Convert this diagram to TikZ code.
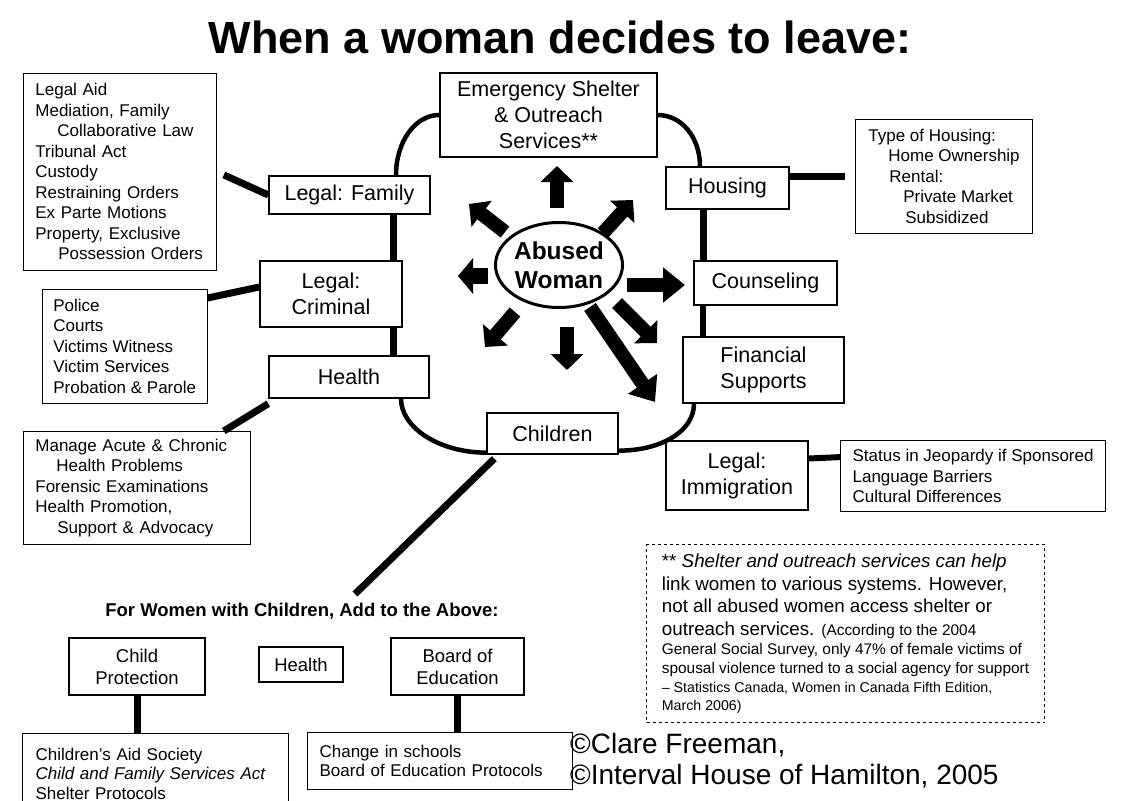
\documentclass[tikz,border=0pt]{standalone}
\usepackage{fontspec}
\setmainfont{Liberation Sans}
\usetikzlibrary{arrows.meta,shapes.geometric}
\newcommand\fBox{\fontsize{21.5}{26}\selectfont}
\newcommand\fList{\fontsize{17}{20.5}\selectfont}
\newcommand\fSub{\fontsize{18.5}{22}\selectfont}
\begin{document}
\begin{tikzpicture}[x=1pt,y=-1pt,
  box/.style={draw, line width=1.3pt, inner sep=0pt, align=center, font=\fBox},
  subbox/.style={draw, line width=1.2pt, inner sep=0pt, align=center, font=\fSub},
  listbox/.style={draw, line width=0.8pt, anchor=north west, align=left, font=\fList, inner ysep=0pt},
  conn/.style={line width=7pt},
  arcc/.style={line width=4.5pt},
  blk/.style={line width=14pt, -{Triangle[width=32pt,length=16pt]}},
  blkl/.style={line width=14pt, -{Triangle[width=34pt,length=22pt]}}
]
\useasboundingbox (0,0) rectangle (1128,801);
\clip (0,0) rectangle (1128,801);
\fill[white] (0,0) rectangle (1128,801);

% title
\node[anchor=base, inner sep=0pt, font=\fontsize{45}{50}\selectfont\bfseries] (title) at (560,53) {When a woman decides to leave:};

% main boxes
\node[box, minimum width=217pt, minimum height=84pt] (es) at (548.5,115) {Emergency Shelter\\\& Outreach\\Services**};
\node[box, minimum width=161pt, minimum height=38pt] (lf) at (349.5,195) {Legal: Family};
\node[box, minimum width=142pt, minimum height=66pt] (lc) at (331,294) {Legal:\\Criminal};
\node[box, minimum width=160pt, minimum height=42pt] (hl) at (349,377) {Health};
\node[box, minimum width=131pt, minimum height=41pt] (ch) at (552.5,433.5) {Children};
\node[box, minimum width=123pt, minimum height=42pt] (hs) at (727.5,188) {Housing};
\node[box, minimum width=143pt, minimum height=44pt] (cs) at (765.5,283) {Counseling};
\node[box, minimum width=161pt, minimum height=66pt] (fs) at (763.5,370) {Financial\\Supports};
\node[box, minimum width=142pt, minimum height=69pt] (im) at (737,475.5) {Legal:\\Immigration};

% centre
\node[draw, ellipse, line width=3pt, minimum width=124pt, minimum height=85pt, inner sep=0pt, align=center,
      font=\fontsize{24.5}{29}\selectfont\bfseries] (ab) at (559,265) {Abused\\Woman};

% list boxes
\node[listbox, inner xsep=12pt, text width=169pt, minimum height=197pt] (tl) at (23,73)
 {Legal Aid\\Mediation, Family\\\hspace*{22pt}Collaborative Law\\Tribunal Act\\Custody\\Restraining Orders\\Ex Parte Motions\\Property, Exclusive\\\hspace*{23pt}Possession Orders};
\node[listbox, inner xsep=11pt, minimum height=114pt] (pol) at (42,289)
 {Police\\Courts\\Victims Witness\\Victim Services\\Probation \& Parole};
\node[listbox, inner xsep=12pt, text width=203pt, minimum height=113pt] (mg) at (23,431)
 {Manage Acute \& Chronic\\\hspace*{21pt}Health Problems\\Forensic Examinations\\Health Promotion,\\\hspace*{22pt}Support \& Advocacy};
\node[listbox, inner xsep=13pt, minimum height=114pt] (tb) at (855,119)
 {Type of Housing:\\\hspace*{20pt}Home Ownership\\\hspace*{21pt}Rental:\\\hspace*{35pt}Private Market\\\hspace*{37pt}Subsidized};
\node[listbox, line width=1.2pt, inner xsep=12pt, minimum height=71pt] (st) at (840,440)
 {Status in Jeopardy if Sponsored\\Language Barriers\\Cultural Differences};

% note
\node[draw, dashed, line width=1pt, anchor=north west, align=left, inner sep=0pt,
      minimum width=398pt, minimum height=178pt, font=\fontsize{18.8}{22.5}\selectfont] (note) at (646,544)
 {** \textit{Shelter and outreach services can help}\\
  link women to various systems. However,\\
  not all abused women access shelter or\\
  outreach services. \fontsize{15.4}{18}\selectfont (According to the 2004\\[-3.5pt]
  \fontsize{15.4}{18}\selectfont General Social Survey, only 47\% of female victims of\\[-3.5pt]
  \fontsize{15.4}{18}\selectfont spousal violence turned to a social agency for support\\[-3.5pt]
  \fontsize{14.2}{16}\selectfont -- Statistics Canada, Women in Canada Fifth Edition,\\[-4.5pt]
  \fontsize{14.2}{16}\selectfont March 2006)};

% children section
\node[anchor=base, inner sep=0pt, font=\fontsize{18.5}{22}\selectfont\bfseries] (fw) at (302,616) {For Women with Children, Add to the Above:};
\node[subbox, minimum width=136pt, minimum height=57pt] (cp) at (137,666.5) {Child\\Protection};
\node[subbox, minimum width=84pt, minimum height=35pt] (hb) at (301,664.5) {Health};
\node[subbox, minimum width=133pt, minimum height=57pt] (bo) at (457.5,666.5) {Board of\\Education};
\node[listbox, line width=1.2pt, inner xsep=13pt, text width=240pt, minimum height=80pt, font=\fontsize{17}{19.5}\selectfont] (ca) at (22,733)
 {Children's Aid Society\\\textit{Child and Family Services Act}\\Shelter Protocols};
\node[listbox, line width=1.2pt, inner xsep=12pt, text width=241pt, minimum height=57pt, font=\fontsize{17}{19.5}\selectfont] (chg) at (307,732)
 {Change in schools\\Board of Education Protocols};

% credits
\node[anchor=base west, inner sep=0pt, font=\fontsize{28}{31}\selectfont] (cr1) at (570,753) {©Clare Freeman,};
\node[anchor=base west, inner sep=0pt, font=\fontsize{28}{31}\selectfont] (cr2) at (570,784) {©Interval House of Hamilton, 2005};

% helper coordinates
\coordinate (xA) at (396,0);
\coordinate (xB) at (700,0);
\coordinate (xC) at (703,0);
\coordinate (xD) at (694,0);
\coordinate (xE) at (401,0);
\coordinate (xF) at (393,0);
\coordinate (fend) at (355,594);

% arcs
\draw[arcc] (lf.north -| xA) .. controls +(0,-34) and +(-24,0) .. (es.west);
\draw[arcc] (es.east) .. controls +(24,0) and +(0,-29) .. (hs.north -| xB);
\draw[arcc] (fs.south -| xD) .. controls +(0,28) and +(42,0) .. ([yshift=4pt]ch.south east);
\draw[arcc] (hl.south -| xE) .. controls +(0,29) and +(-47,0) .. ([yshift=2pt]ch.south west);

% straight connectors
\draw[conn] (lf.south -| xF) -- (lc.north -| xF);
\draw[conn] (lc.south -| xF) -- (hl.north -| xF);
\draw[conn] (hs.south -| xC) -- (cs.north -| xC);
\draw[conn, line width=6pt] (cs.south -| xC) -- (fs.north -| xC);
\draw[conn] ([xshift=7pt,yshift=-3pt]tl.east) -- (lf.west);
\draw[conn] ([yshift=-9pt]pol.north east) -- ([yshift=7pt]lc.west);
\draw[conn] ([yshift=-5pt]hl.south west) -- ([xshift=-27pt]mg.north east);
\draw[conn] (hs.east |- tb.west) -- ([xshift=-10pt]tb.west);
\draw[conn, line width=6pt] ([yshift=17pt]im.east) -- ([yshift=19pt]st.west);
\draw[conn] ([xshift=8pt,yshift=-4pt]ch.south west) -- (fend);
\draw[conn] (cp.south) -- (cp.south |- ca.north);
\draw[conn] (bo.south) -- (bo.south |- chg.north);

% block arrows
\coordinate (t1) at (557,208); \coordinate (h1) at (557,166);
\coordinate (t2) at (505,232); \coordinate (h2) at (469,204);
\coordinate (t3) at (603,233); \coordinate (h3) at (633,200);
\coordinate (t4) at (488,276); \coordinate (h4) at (458,276);
\coordinate (t5) at (627,285); \coordinate (h5) at (685,285);
\coordinate (t6) at (515,312); \coordinate (h6) at (485,347);
\coordinate (t7) at (567,327); \coordinate (h7) at (567,370);
\coordinate (t8) at (617,303); \coordinate (h8) at (657,343);
\coordinate (t9) at (590,307); \coordinate (h9) at (655,402);
\draw[blk] (t1) -- (h1);
\draw[blk] (t2) -- (h2);
\draw[blk] (t3) -- (h3);
\draw[blk, line width=16pt, -{Triangle[width=35pt,length=15pt]}] (t4) -- (h4);
\draw[blkl] (t5) -- (h5);
\draw[blk] (t6) -- (h6);
\draw[blk] (t7) -- (h7);
\draw[blk] (t8) -- (h8);
\draw[blkl] (t9) -- (h9);
\end{tikzpicture}
\end{document}
